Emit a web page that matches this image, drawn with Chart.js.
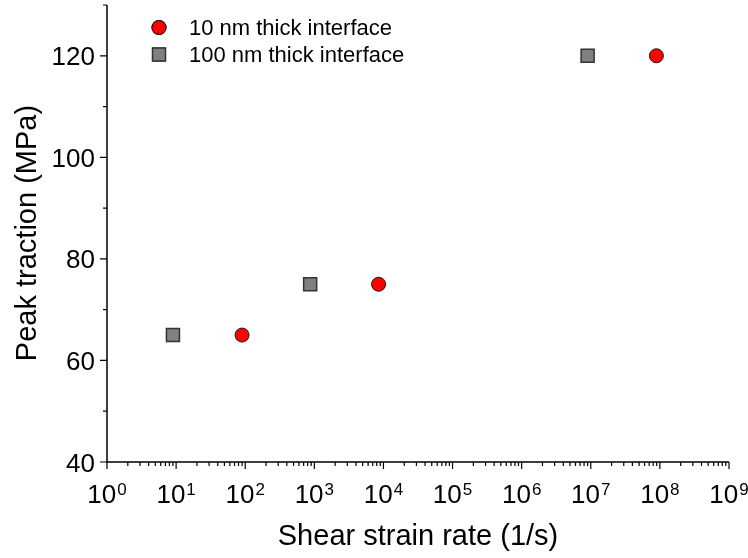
<!DOCTYPE html>
<html>
<head>
<meta charset="utf-8">
<script src="https://cdn.jsdelivr.net/npm/chart.js@4.4.1/dist/chart.umd.min.js"></script>
<style>
  html, body { margin: 0; padding: 0; background: #fff; }
  #wrap { width: 748px; height: 558px; }
</style>
</head>
<body>
<div id="wrap"><canvas id="chart" width="748" height="558"></canvas></div>
<script>
// values
const seriesNames = ['10 nm thick interface', '100 nm thick interface'];
const rate10nm = [90, 8500, 8.9e7];
const traction10nm = [65, 75, 120];
const rate100nm = [9, 870, 9e6];
const traction100nm = [65, 75, 120];

const xDecades = [0, 1, 2, 3, 4, 5, 6, 7, 8, 9];
const yMajorTicks = [40, 60, 80, 100, 120];
const yMinorTicks = [50, 70, 90, 110, 130];
const xTitle = 'Shear strain rate (1/s)';
const yTitle = 'Peak traction (MPa)';

const FONT = '"Liberation Sans", Arial, Helvetica, sans-serif';

const toPoints = (xs, ys) => xs.map((x, i) => ({ x: x, y: ys[i] }));

// axes, ticks, labels and legend drawn by hand (Origin-like look)
const axesPlugin = {
  id: 'originAxes',
  afterDraw(chart) {
    const ctx = chart.ctx;
    const xs = chart.scales.x, ys = chart.scales.y;
    const area = chart.chartArea;
    ctx.save();
    ctx.strokeStyle = '#000';
    ctx.fillStyle = '#000';
    ctx.lineWidth = 1.5;

    // axis lines
    ctx.beginPath();
    ctx.moveTo(area.left, area.top);
    ctx.lineTo(area.left, area.bottom);
    ctx.lineTo(area.right, area.bottom);
    ctx.stroke();

    // y ticks
    ctx.lineWidth = 1.2;
    ctx.beginPath();
    yMajorTicks.forEach(v => {
      const py = ys.getPixelForValue(v);
      ctx.moveTo(area.left - 7, py);
      ctx.lineTo(area.left, py);
    });
    yMinorTicks.forEach(v => {
      const py = ys.getPixelForValue(v);
      ctx.moveTo(area.left - 4, py);
      ctx.lineTo(area.left, py);
    });
    // x ticks
    xDecades.forEach(n => {
      const px = xs.getPixelForValue(Math.pow(10, n));
      ctx.moveTo(px, area.bottom);
      ctx.lineTo(px, area.bottom + 7);
      if (n < 9) {
        for (let m = 2; m <= 9; m++) {
          const pm = xs.getPixelForValue(m * Math.pow(10, n));
          ctx.moveTo(pm, area.bottom);
          ctx.lineTo(pm, area.bottom + 4);
        }
      }
    });
    ctx.stroke();

    // y tick labels
    ctx.font = '26px ' + FONT;
    ctx.textAlign = 'right';
    ctx.textBaseline = 'alphabetic';
    yMajorTicks.forEach(v => {
      ctx.fillText(String(v), area.left - 12, ys.getPixelForValue(v) + 9.5);
    });

    // x tick labels 10^n
    ctx.textAlign = 'left';
    xDecades.forEach(n => {
      const px = xs.getPixelForValue(Math.pow(10, n));
      ctx.font = '26px ' + FONT;
      const wBase = ctx.measureText('10').width;
      ctx.font = '17px ' + FONT;
      const wExp = ctx.measureText(String(n)).width;
      const x0 = px - (wBase + 1 + wExp) / 2;
      ctx.font = '26px ' + FONT;
      ctx.fillText('10', x0, area.bottom + 41);
      ctx.font = '17px ' + FONT;
      ctx.fillText(String(n), x0 + wBase + 1, area.bottom + 33);
    });

    // axis titles
    ctx.font = '29px ' + FONT;
    ctx.textAlign = 'center';
    ctx.fillText(xTitle, (area.left + area.right) / 2, area.bottom + 83);
    ctx.save();
    ctx.translate(36, 233);
    ctx.rotate(-Math.PI / 2);
    ctx.fillText(yTitle, 0, 0);
    ctx.restore();

    // legend
    ctx.font = '22px ' + FONT;
    ctx.textAlign = 'left';
    chart.data.datasets.forEach((ds, i) => {
      const my = 27.5 + i * 27;
      Chart.helpers.drawPoint(ctx, {
        pointStyle: ds.pointStyle,
        radius: ds.pointRadius,
        rotation: 0,
        borderWidth: ds.borderWidth
      }, 159, my);
      ctx.fillStyle = ds.backgroundColor;
      ctx.strokeStyle = ds.borderColor;
      ctx.lineWidth = ds.borderWidth;
      ctx.fill();
      ctx.stroke();
      ctx.fillStyle = '#000';
      ctx.fillText(seriesNames[i], 189, my + 7.5);
    });
    ctx.restore();
  }
};

new Chart(document.getElementById('chart'), {
  type: 'scatter',
  data: {
    datasets: [
      {
        label: seriesNames[0],
        data: toPoints(rate10nm, traction10nm),
        pointStyle: 'circle',
        pointRadius: 7,
        backgroundColor: '#ff0000',
        borderColor: '#1a1a1a',
        borderWidth: 1
      },
      {
        label: seriesNames[1],
        data: toPoints(rate100nm, traction100nm),
        pointStyle: 'rect',
        pointRadius: 9.2,
        backgroundColor: '#808080',
        borderColor: '#333333',
        borderWidth: 1.5
      }
    ]
  },
  options: {
    responsive: false,
    animation: false,
    layout: { autoPadding: false, padding: { left: 107, right: 19, top: 5, bottom: 96 } },
    plugins: {
      legend: { display: false },
      tooltip: { enabled: false }
    },
    scales: {
      x: { type: 'logarithmic', min: 1, max: 1e9, display: false },
      y: { type: 'linear', min: 40, max: 130, display: false }
    }
  },
  plugins: [axesPlugin]
});
</script>
</body>
</html>
